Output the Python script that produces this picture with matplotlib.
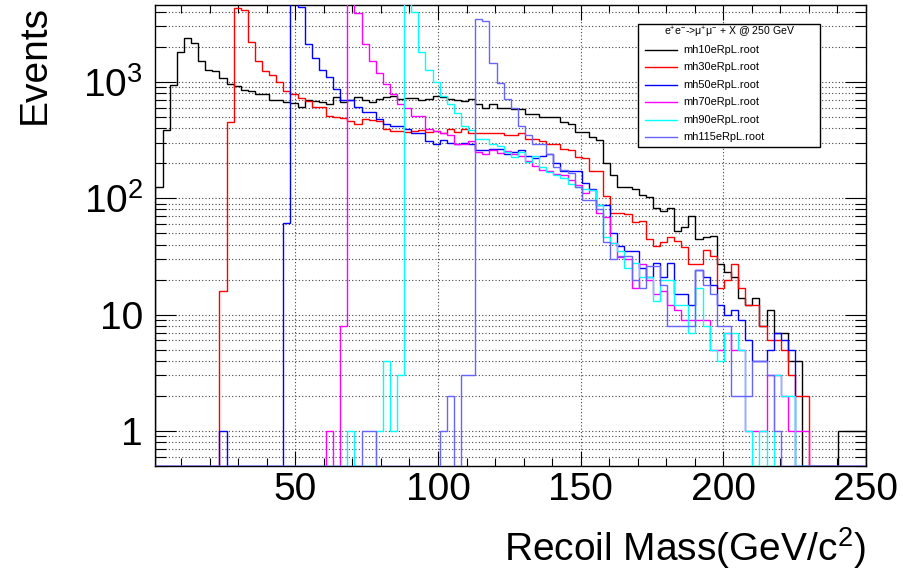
import numpy as np
import matplotlib
matplotlib.use('Agg')
import matplotlib.pyplot as plt
from matplotlib.ticker import FixedLocator, MultipleLocator, LogLocator, NullFormatter, FuncFormatter
from matplotlib.lines import Line2D
from matplotlib.patches import Rectangle

plt.rcParams['font.family'] = ['Liberation Sans', 'DejaVu Sans']
plt.rcParams['mathtext.fontset'] = 'custom'
plt.rcParams['mathtext.rm'] = 'Liberation Sans'
plt.rcParams['mathtext.it'] = 'Liberation Sans:italic'
plt.rcParams['mathtext.default'] = 'regular'

# histogram binning: 100 bins from 1 to 250 GeV
nbins = 100
xlo, xhi = 1.0, 250.0

labels = ['mh10eRpL.root', 'mh30eRpL.root', 'mh50eRpL.root',
          'mh70eRpL.root', 'mh90eRpL.root', 'mh115eRpL.root']
colors = ['black', '#ff0000', '#0000ff', '#ff00ff', '#00ffff', '#6666ff']
legend_title = r'e$^{+}$e$^{-}$->$\mu^{+}\mu^{-}$ + X @ 250 GeV'

# bin contents
mh10 = [126, 383, 945, 1800, 2400, 2150, 1520, 1260, 1230, 1070,
        960, 915, 850, 830, 790, 780, 695, 695, 670, 660,
        610, 695, 680, 670, 650, 740, 670, 695, 740, 695,
        670, 710, 740, 750, 715, 720, 725, 695, 715, 750,
        740, 705, 695, 685, 705, 650, 600, 650, 600, 590,
        585, 585, 530, 530, 500, 500, 495, 450, 430, 370,
        370, 333, 318, 200, 157, 126, 126, 121, 106, 102,
        83, 77, 83, 52, 57, 71, 45, 46, 47, 27,
        23, 21, 14, 12, 14, 8, 11, 7, 7, 4,
        4, 0, 0, 0, 0, 0, 1, 1, 1, 1]

mh30 = [0, 0, 0, 0, 0, 0, 0, 0, 0, 16,
        450, 4300, 4150, 2200, 1520, 1230, 1150, 1000, 830, 790,
        720, 690, 610, 610, 510, 500, 490, 465, 430, 480,
        470, 460, 395, 380, 380, 370, 380, 385, 370, 380,
        365, 395, 370, 395, 365, 360, 365, 362, 360, 350,
        352, 365, 325, 325, 310, 290, 295, 265, 260, 225,
        220, 172, 170, 104, 74, 75, 73, 63, 64, 45,
        39, 42, 46, 43, 38, 27, 27, 36, 32, 17,
        20, 27, 17, 12, 12, 8, 6, 6, 5, 3,
        2, 2, 0, 0, 0, 0, 0, 0, 0, 0]

mh50 = [0, 0, 0, 0, 0, 0, 0, 0, 0, 1,
        0, 0, 0, 0, 0, 0, 0, 0, 61, 5800,
        4400, 2100, 1600, 1270, 1090, 870, 695, 695, 610, 550,
        550, 480, 435, 420, 420, 390, 360, 360, 310, 290,
        315, 300, 290, 300, 290, 260, 260, 265, 265, 240,
        250, 260, 230, 220, 230, 240, 200, 172, 172, 170,
        135, 119, 88, 87, 50, 39, 35, 35, 25, 21,
        28, 21, 28, 15, 15, 12, 24, 21, 18, 12,
        10, 11, 9, 6, 4, 4, 5, 7, 6, 5,
        0, 0, 0, 0, 0, 0, 0, 0, 0, 0]

mh70 = [0, 0, 0, 0, 0, 0, 0, 0, 0, 0,
        0, 0, 0, 0, 0, 0, 0, 0, 0, 0,
        0, 0, 0, 0, 1, 0, 8, 5500, 3900, 2100,
        1500, 1200, 950, 780, 650, 600, 510, 510, 395, 380,
        365, 350, 295, 295, 310, 250, 240, 260, 245, 255,
        240, 230, 210, 190, 175, 170, 162, 157, 144, 130,
        110, 118, 74, 69, 41, 31, 30, 17, 27, 20,
        15, 16, 12, 11, 9, 9, 9, 9, 5, 5,
        7, 5, 5, 1, 1, 1, 3, 3, 2, 1,
        1, 1, 0, 0, 0, 0, 0, 0, 0, 0]

mh90 = [0, 0, 0, 0, 0, 0, 0, 0, 0, 0,
        0, 0, 0, 0, 0, 0, 0, 0, 0, 0,
        0, 0, 0, 0, 0, 0, 0, 1, 0, 0,
        0, 1, 4, 1, 3, 5000, 3970, 1820, 1260, 1000,
        750, 650, 540, 420, 385, 325, 320, 295, 280, 250,
        225, 250, 205, 230, 185, 167, 157, 150, 133, 126,
        119, 117, 88, 46, 41, 35, 25, 28, 21, 21,
        13, 20, 20, 12, 12, 7, 17, 8, 5, 4,
        7, 7, 5, 1, 0, 1, 0, 3, 2, 2,
        0, 0, 0, 0, 0, 0, 0, 0, 0, 0]

mh115 = [0, 0, 0, 0, 0, 0, 0, 0, 0, 0,
         0, 0, 0, 0, 0, 0, 0, 0, 0, 0,
         0, 0, 0, 0, 0, 0, 0, 0, 0, 1,
         1, 0, 0, 0, 0, 0, 0, 0, 0, 0,
         1, 2, 0, 3, 3, 3460, 3300, 1450, 975, 715,
         590, 415, 350, 290, 290, 240, 185, 175, 165, 125,
         96, 96, 80, 42, 30, 32, 32, 20, 17, 26,
         26, 18, 8, 8, 8, 8, 24, 18, 15, 8,
         8, 2, 2, 2, 4, 4, 3, 1, 0, 0,
         0, 0, 0, 0, 0, 0, 0, 0, 0, 0]

series = [mh10, mh30, mh50, mh70, mh90, mh115]

ymin, ymax = 0.5, 4570.0
W, H = 904, 579


def px(x, y):
    # pixel position (from top left) -> figure fraction
    return x / W, 1 - y / H


fig = plt.figure(figsize=(W / 100, H / 100), dpi=100)
ax = fig.add_axes([155.5 / W, 1 - 466 / H, 710.5 / W, 461 / H])

edges = np.linspace(xlo, xhi, nbins + 1)
for vals, c in zip(series, colors):
    v = np.maximum(np.asarray(vals, dtype=float), ymin)
    ax.stairs(v, edges, baseline=ymin, color=c, lw=1.0, zorder=3)

ax.set_yscale('log')
ax.set_xlim(xlo, xhi)
ax.set_ylim(ymin, ymax)

# ticks, ROOT style
ax.xaxis.set_major_locator(FixedLocator([50, 100, 150, 200, 250]))
ax.xaxis.set_minor_locator(MultipleLocator(10))
ax.yaxis.set_major_locator(LogLocator(base=10, numticks=10))
ax.yaxis.set_minor_locator(LogLocator(base=10, subs=np.arange(2, 10), numticks=20))
ax.yaxis.set_minor_formatter(NullFormatter())
ylab = {1: '1', 10: '10', 100: r'$10^{2}$', 1000: r'$10^{3}$'}
ax.yaxis.set_major_formatter(FuncFormatter(lambda v, p: ylab.get(int(round(v)), '')))

ax.tick_params(which='both', direction='in', top=True, right=True, width=0.8, labelsize=28)
ax.tick_params(axis='x', which='major', length=10.5, pad=4)
ax.tick_params(axis='x', which='minor', length=5.5)
ax.tick_params(axis='y', which='major', length=15, pad=9)
ax.tick_params(axis='y', which='minor', length=8)

# grid
ax.grid(True, axis='x', which='major', color='#444444', linestyle=(0, (1, 2)), lw=0.8)
ax.grid(True, axis='y', which='both', color='#444444', linestyle=(0, (1, 2)), lw=0.8)
ax.set_axisbelow(True)
for s in ax.spines.values():
    s.set_linewidth(1.0)

ax.set_xlabel(r'Recoil Mass(GeV/c$^{2}$)', fontsize=28, loc='right')
ax.xaxis.set_label_coords(1.0, -0.128)
ax.set_ylabel('Events', fontsize=28, loc='top')
ax.yaxis.set_label_coords(-0.145, 1.0)

# legend box drawn by hand, like a ROOT TLegend
x0, y0 = px(637.5, 146.5)
x1, y1 = px(820, 23.5)
box = Rectangle((x0, y0), x1 - x0, y1 - y0, transform=fig.transFigure,
                facecolor='white', edgecolor='black', lw=1.0, zorder=10)
fig.add_artist(box)
tx, ty = px(730, 32.5)
fig.text(tx, ty, legend_title, fontsize=7.6, ha='center', va='center', zorder=11)
entry_y = [50, 67.3, 84.7, 102.2, 119.6, 137]
for lab, c, yy in zip(labels, colors, entry_y):
    (la, lb), (lc, ld) = px(645, yy), px(677, yy)
    fig.add_artist(Line2D([la, lc], [lb, ld], color=c, lw=1.0, transform=fig.transFigure, zorder=11))
    qx, qy = px(683, yy)
    fig.text(qx, qy, lab, fontsize=7.9, ha='left', va='center', zorder=11)

fig.savefig('out.png', dpi=100)
